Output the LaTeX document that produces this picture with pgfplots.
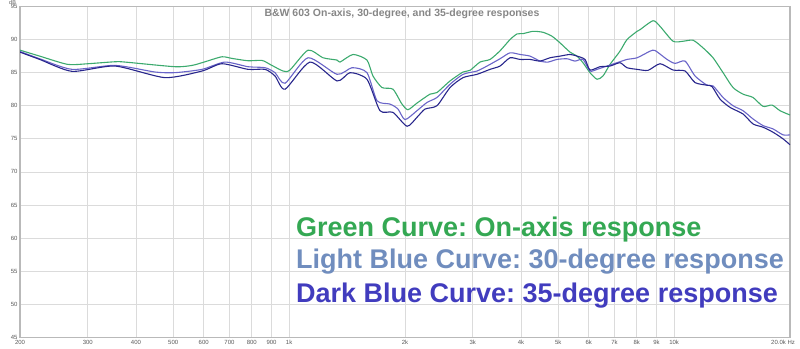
\documentclass[border=0pt]{standalone}
\usepackage{fontspec}
\setmainfont{Liberation Sans}
\usepackage{pgfplots}
\pgfplotsset{compat=1.18}
\frenchspacing
\definecolor{cgreen}{RGB}{60,170,110}
\definecolor{clight}{RGB}{105,100,200}
\definecolor{cdark}{RGB}{40,38,140}
\definecolor{tgreen}{RGB}{52,168,83}
\definecolor{tlight}{RGB}{112,141,190}
\definecolor{tdark}{RGB}{65,60,190}
\begin{document}
\begin{tikzpicture}
\useasboundingbox (0,0) rectangle (800pt,348pt);
\begin{axis}[
  at={(20pt,10.7pt)}, anchor=south west,
  scale only axis, width=770pt, height=330.8pt,
  xmode=log, xmin=200, xmax=20000, ymin=45, ymax=95,
  xtick={200,300,400,500,600,700,800,900,1000,2000,3000,4000,5000,6000,7000,8000,9000,10000,20000},
  xticklabels={200,300,400,500,600,700,800,900,1k,2k,3k,4k,5k,6k,7k,8k,9k,10k,{\kern-14pt 20.0k Hz}},
  minor xtick={},
  ytick={45,50,55,60,65,70,75,80,85,90,95},
  /pgf/number format/assume math mode=true,
  grid=major,
  major grid style={draw=gray!28, line width=0.8pt},
  axis line style={draw=gray!55, line width=1.6pt},
  tick style={draw=none},
  ticklabel style={font=\fontsize{6}{7}\selectfont, text=gray!70!black},
  yticklabel style={xshift=1pt},
  xticklabel style={yshift=1pt},
  clip=true,
]
\addplot[cgreen, line width=1.1pt, smooth, tension=0.4] coordinates {
(200,88.4)(225,87.5)(266,86.25)(300,86.35)(353,86.65)(375,86.6)(505,85.9)(560,86.1)(605,86.65)(669,87.4)(711,87.15)(782,86.8)(850,86.85)(892,86.25)(964,85.25)(1005,85.4)(1120,88.4)(1225,87.25)(1332,86.9)(1356,86.6)(1466,87.75)(1593,86.9)(1651,84.5)(1743,82.75)(1861,82.5)(1964,80.25)(2036,79.4)(2148,80.4)(2322,81.75)(2421,82.0)(2618,83.75)(2830,85.1)(2951,85.35)(3132,86.6)(3326,87.0)(3530,88.3)(3748,90.0)(3908,90.85)(4052,90.9)(4300,91.25)(4566,91.1)(4818,90.5)(5054,89.5)(5366,88.1)(5596,87.5)(5798,86.5)(6046,85.0)(6306,84.0)(6536,84.5)(6816,86.25)(7234,88.25)(7544,90.0)(8012,91.25)(8156,91.5)(8816,92.85)(9192,92.0)(9936,89.75)(10548,89.75)(11200,89.9)(11886,88.75)(12620,87.25)(13398,85.0)(14224,82.75)(15100,81.75)(16030,81.25)(17022,79.9)(17960,80.1)(18838,79.25)(20000,78.6)
};
\addplot[clight, line width=1.1pt, smooth, tension=0.4] coordinates {
(200,88.2)(225,87.1)(273,85.5)(353,86.1)(448,85.1)(505,85.0)(594,85.5)(681,86.6)(782,85.9)(866,85.75)(919,85.0)(976,83.4)(1120,87.25)(1332,84.75)(1457,85.75)(1593,85.0)(1692,80.75)(1829,80.25)(1918,79.5)(2000,77.9)(2148,79.25)(2281,80.5)(2421,81.25)(2618,83.25)(2830,84.75)(3077,85.25)(3266,86.0)(3530,87.1)(3748,88.0)(3980,87.75)(4224,87.5)(4484,86.75)(4704,86.6)(4964,87.0)(5270,87.1)(5528,86.75)(5798,87.0)(6046,85.25)(6306,85.5)(6694,86.0)(7106,86.5)(7544,87.0)(8012,87.25)(8660,88.25)(8922,88.35)(9586,87.0)(10054,86.4)(10676,86.75)(11332,84.5)(12174,83.1)(12620,83.0)(13398,81.25)(14224,80.0)(15100,79.25)(16030,78.0)(17022,77.0)(18066,76.5)(19180,75.6)(20000,75.6)
};
\addplot[cdark, line width=1.1pt, smooth, tension=0.4] coordinates {
(200,88.1)(225,87.0)(273,85.2)(353,86.0)(476,84.25)(594,85.25)(669,86.35)(782,85.5)(866,85.5)(919,84.5)(976,82.5)(1133,86.6)(1332,83.75)(1439,85.0)(1593,84.0)(1722,79.25)(1861,79.0)(2024,76.9)(2148,78.25)(2254,79.5)(2421,80.0)(2618,82.75)(2830,84.25)(3077,84.75)(3326,85.5)(3530,86.0)(3748,87.25)(3980,87.0)(4224,87.0)(4484,86.75)(4760,87.25)(5054,87.5)(5366,87.75)(5596,87.5)(5868,87.0)(6046,85.4)(6420,85.9)(6816,86.0)(7234,86.5)(7544,85.75)(8012,85.5)(8556,85.35)(9192,86.35)(9936,85.4)(10676,85.25)(11332,83.5)(12174,83.1)(12546,82.9)(13160,81.0)(13972,79.75)(15100,78.75)(16030,77.25)(17022,76.75)(18066,76.0)(19180,75.0)(20000,74.1)
};
\node[anchor=center, font=\bfseries\fontsize{10.5}{12}\selectfont, text=gray!95] at (axis description cs:0.496,0.979) {B\&W 603 On-axis, 30-degree, and 35-degree responses};
\node[anchor=base west, inner sep=0, font=\bfseries\fontsize{27}{30}\selectfont, text=tgreen] at (axis description cs:0.3584,0.3032) {Green Curve: On-axis response};
\node[anchor=base west, inner sep=0, font=\bfseries\fontsize{27}{30}\selectfont, text=tlight] at (axis description cs:0.3584,0.2065) {Light Blue Curve: 30-degree response};
\node[anchor=base west, inner sep=0, font=\bfseries\fontsize{27}{30}\selectfont, text=tdark] at (axis description cs:0.3584,0.1067) {Dark Blue Curve: 35-degree response};
\end{axis}
\node[anchor=north west, inner sep=0, font=\fontsize{5.5}{6}\selectfont, text=gray!70!black] at (9pt,348pt) {dB};
\end{tikzpicture}
\end{document}
